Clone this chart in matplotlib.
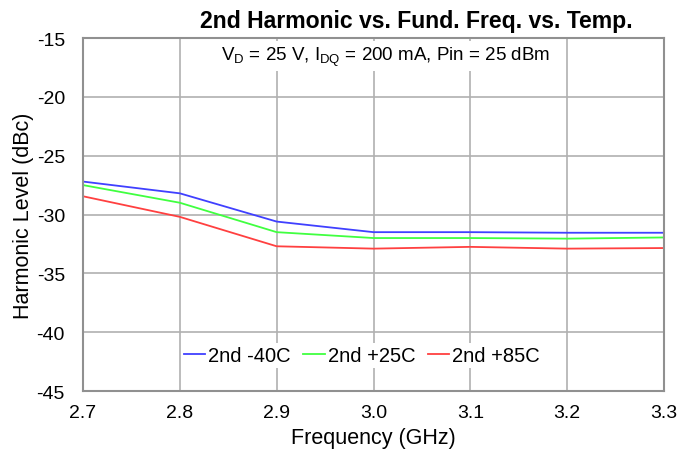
import matplotlib
matplotlib.use("Agg")
import matplotlib.pyplot as plt

plt.rcParams['font.family'] = ['Liberation Sans', 'DejaVu Sans']
plt.rcParams['axes.unicode_minus'] = False

freq = [2.7, 2.8, 2.9, 3.0, 3.1, 3.2, 3.3]
h2_m40 = [-27.2, -28.2, -30.6, -31.5, -31.5, -31.55, -31.55]
h2_p25 = [-27.5, -29.0, -31.5, -32.0, -32.0, -32.05, -31.95]
h2_p85 = [-28.45, -30.2, -32.7, -32.9, -32.75, -32.9, -32.85]
labels = ["2nd -40C", "2nd +25C", "2nd +85C"]
colors = ["#4040ff", "#40ff40", "#ff4040"]

fig = plt.figure(figsize=(6.78, 4.6), dpi=100)
ax = fig.add_axes([0.1224, 0.1478, 0.857, 0.7674])

for ys, lab, c in zip([h2_m40, h2_p25, h2_p85], labels, colors):
    ax.plot(freq, ys, color=c, lw=1.3, label=lab)

ax.set_xlim(2.7, 3.3)
ax.set_ylim(-45, -15)
ax.set_xticks(freq)
ax.set_xticklabels([f"{f:.1f}" for f in freq])
ax.set_yticks(range(-45, -14, 5))
ax.grid(True, color="#b0b0b0", lw=1.2)
ax.tick_params(labelsize=14, length=0)
ax.tick_params(axis="x", pad=9)
ax.tick_params(axis="y", pad=13)
for s in ax.spines.values():
    s.set_color("#909090")
    s.set_linewidth(1.5)

fig.text(0.614, 1 - 28 / 460, "2nd Harmonic vs. Fund. Freq. vs. Temp.", ha="center",
         va="baseline", fontsize=16.6, fontweight="bold")
ax.set_xlabel("Frequency (GHz)", fontsize=15.5, labelpad=5)
ax.set_ylabel("Harmonic Level (dBc)", fontsize=15.5, labelpad=2)
ax.text(0.52, 0.949, r"V$_\mathregular{D}$ = 25 V, I$_\mathregular{DQ}$ = 200 mA, Pin = 25 dBm",
        transform=ax.transAxes, ha="center", va="center", fontsize=13.5,
        bbox=dict(facecolor="white", edgecolor="none", pad=2))

leg = ax.legend(loc="center", bbox_to_anchor=(0.48, 0.1), ncol=3, frameon=True,
                fontsize=14.5, handlelength=1.05, handletextpad=0.15, columnspacing=0.65,
                borderpad=0.15, fancybox=False, framealpha=1)
leg.get_frame().set_edgecolor("none")

fig.savefig("out.png", dpi=100)
